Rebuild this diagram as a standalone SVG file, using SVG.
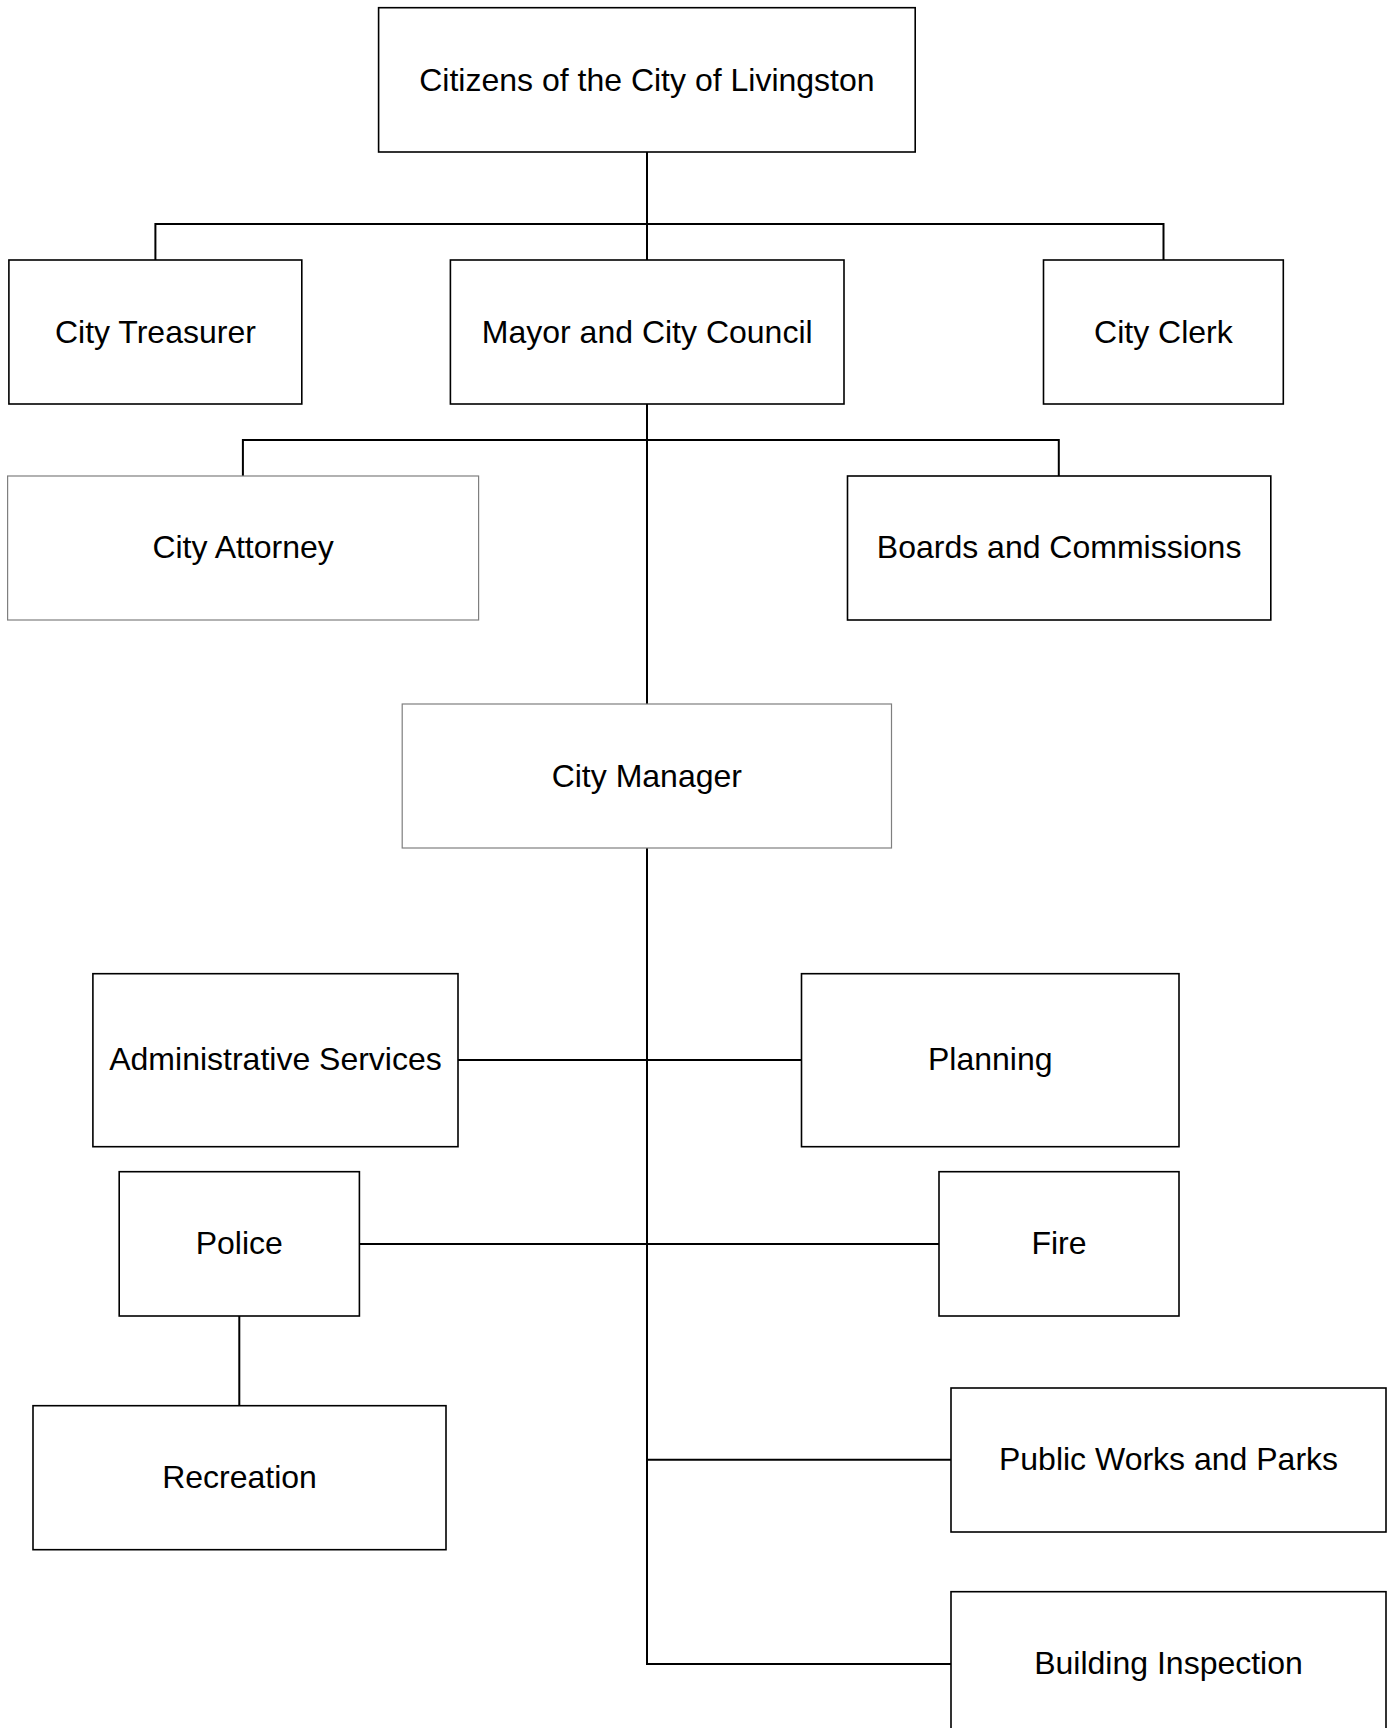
<svg xmlns="http://www.w3.org/2000/svg" width="1395" height="1728" viewBox="0 0 1395 1728">
<style>
.box{fill:#fff;stroke:#000;stroke-width:1.6}
.lite{fill:#fff;stroke:#7f7f7f;stroke-width:1.2}
.lbl{font-family:"Liberation Sans",Arial,sans-serif;font-size:32px;fill:#000;text-anchor:middle}
.con{fill:none;stroke:#000;stroke-width:2}
</style>
<rect width="1395" height="1728" fill="#fff"/>
<g id="connectors">
<path class="con" d="M647 152V260M155.4 260V224H1163.5V260"/>
<path class="con" d="M647 404V704M242.9 476V440H1058.8V476"/>
<path class="con" d="M647 848V1664H951"/>
<path class="con" d="M458 1060H801.5M359.4 1244H939M239.3 1316V1405.7M647 1459.7H951"/>
</g>
<g id="citizens"><rect class="box" x="378.6" y="7.7" width="536.6" height="144.3"/><text class="lbl" x="646.9" y="90.5">Citizens of the City of Livingston</text></g>
<g id="treasurer"><rect class="box" x="8.9" y="260" width="292.9" height="144"/><text class="lbl" x="155.4" y="342.5">City Treasurer</text></g>
<g id="mayor"><rect class="box" x="450.4" y="260" width="393.6" height="144"/><text class="lbl" x="647.2" y="342.5">Mayor and City Council</text></g>
<g id="clerk"><rect class="box" x="1043.5" y="260" width="239.8" height="144"/><text class="lbl" x="1163.4" y="342.5">City Clerk</text></g>
<g id="attorney"><rect class="lite" x="7.6" y="476" width="471" height="144"/><text class="lbl" x="243.1" y="557.5">City Attorney</text></g>
<g id="boards"><rect class="box" x="847.5" y="476" width="423.3" height="144"/><text class="lbl" x="1059.1" y="557.5">Boards and Commissions</text></g>
<g id="manager"><rect class="lite" x="402.2" y="704" width="489.3" height="144"/><text class="lbl" x="646.8" y="786.5">City Manager</text></g>
<g id="admin"><rect class="box" x="92.9" y="973.7" width="365.1" height="173"/><text class="lbl" x="275.5" y="1069.5">Administrative Services</text></g>
<g id="planning"><rect class="box" x="801.5" y="973.7" width="377.5" height="173"/><text class="lbl" x="990.2" y="1069.5">Planning</text></g>
<g id="police"><rect class="box" x="119.2" y="1171.7" width="240.2" height="144.3"/><text class="lbl" x="239.3" y="1253.5">Police</text></g>
<g id="fire"><rect class="box" x="939" y="1171.7" width="240" height="144.3"/><text class="lbl" x="1059" y="1253.5">Fire</text></g>
<g id="recreation"><rect class="box" x="33" y="1405.7" width="413" height="144"/><text class="lbl" x="239.5" y="1487.5">Recreation</text></g>
<g id="publicworks"><rect class="box" x="951" y="1388" width="435" height="144"/><text class="lbl" x="1168.5" y="1469.5">Public Works and Parks</text></g>
<g id="building"><rect class="box" x="951" y="1591.7" width="435" height="144"/><text class="lbl" x="1168.5" y="1673.5">Building Inspection</text></g>
</svg>
